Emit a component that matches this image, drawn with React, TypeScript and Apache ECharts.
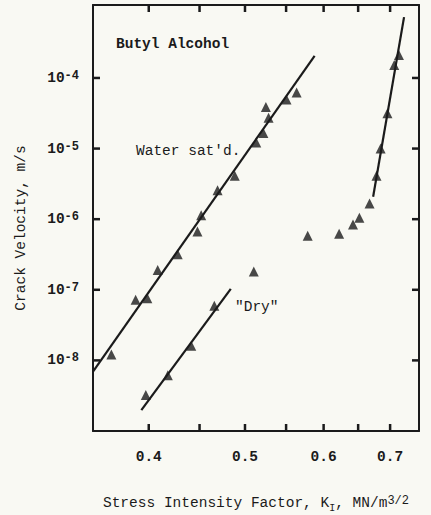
import React, { useEffect, useRef } from 'react';
import * as echarts from 'echarts';

// Stress intensity factor K_I (MN/m^3/2) and crack velocity (m/s)
const waterK = [0.3668, 0.388, 0.3987, 0.4084, 0.4278, 0.4478, 0.4517, 0.4692, 0.4883, 0.5132, 0.5218, 0.5281, 0.5248, 0.5505, 0.5636];
const waterV = [1.21e-8, 7.2e-8, 7.57e-8, 1.91e-7, 3.18e-7, 6.67e-7, 1.14e-6, 2.56e-6, 4.13e-6, 1.22e-5, 1.66e-5, 2.74e-5, 3.87e-5, 4.97e-5, 6.21e-5];
const waterFitK = [0.3515, 0.5876];
const waterFitV = [6.95e-9, 2.06e-4];

const dryK = [0.3973, 0.4181, 0.4414, 0.4657];
const dryV = [3.23e-9, 6.17e-9, 1.61e-8, 5.95e-8];
const dryFitK = [0.3932, 0.4838];
const dryFitV = [1.98e-9, 1.03e-7];

const highK = [0.5103, 0.5782, 0.622, 0.6423, 0.6519, 0.6674, 0.6783, 0.6848, 0.6957, 0.7068, 0.7145];
const highV = [1.81e-7, 5.82e-7, 6.21e-7, 8.41e-7, 1.05e-6, 1.67e-6, 4.11e-6, 1.0e-5, 3.16e-5, 1.53e-4, 2.12e-4];
const highFitK = [0.673, 0.723];
const highFitV = [2.08e-6, 7.26e-4];

const X_MIN = 0.3515;
const X_MAX = 0.7485;
const Y_MIN = 1e-9;
const Y_MAX = 1.08e-3;

const xTickValues = [0.4, 0.45, 0.5, 0.55, 0.6, 0.65, 0.7];
const xLabelValues = [0.4, 0.5, 0.6, 0.7];
const yTickValues = [1e-8, 1e-7, 1e-6, 1e-5, 1e-4];

const INK = '#1b1b1b';
const FONT = '"Liberation Mono", "DejaVu Sans Mono", monospace';
const TICK_LEN = 7;

const pairs = (xs: number[], ys: number[]) => xs.map((x, i) => [x, ys[i]]);

export default function App() {
  const ref = useRef<HTMLDivElement>(null);
  useEffect(() => {
    if (!ref.current) return;
    const chart = echarts.init(ref.current, null, { renderer: 'svg' });
    const axisLine = { show: true, onZero: false, lineStyle: { color: INK, width: 2 } };
    const xBase = {
      type: 'log' as const,
      logBase: 10,
      min: X_MIN,
      max: X_MAX,
      splitLine: { show: false },
      minorTick: { show: false },
      axisTick: { show: false },
      axisLine,
    };
    const yBase = {
      type: 'log' as const,
      logBase: 10,
      min: Y_MIN,
      max: Y_MAX,
      splitLine: { show: false },
      minorTick: { show: false },
      axisTick: { show: false },
      axisLine,
    };
    const scatter = (name: string, xs: number[], ys: number[]) => ({
      name,
      type: 'scatter',
      symbol: 'triangle',
      symbolSize: 10,
      itemStyle: { color: INK },
      data: pairs(xs, ys),
      z: 3,
    });
    const fit = (name: string, xs: number[], ys: number[]) => ({
      name,
      type: 'line',
      symbol: 'none',
      lineStyle: { color: INK, width: 2.2 },
      data: pairs(xs, ys),
      z: 2,
    });
    const tickStyle = { stroke: INK, lineWidth: 2.5 };
    chart.setOption({
      animation: false,
      backgroundColor: '#f9f9f3',
      grid: { left: 93, right: 12, top: 5, bottom: 84, containLabel: false, outerBoundsMode: 'none' },
      xAxis: [
        {
          ...xBase,
          position: 'bottom',
          axisLabel: {
            customValues: xLabelValues,
            formatter: (v: number) => v.toFixed(1),
            margin: 18,
            color: INK,
            fontFamily: FONT,
            fontWeight: 'bold',
            fontSize: 14.5,
          },
          name: '{t|Stress Intensity Factor, K}{sub|I}{t|, MN/m}{sup|3/2}',
          nameLocation: 'middle',
          nameGap: 64,
          nameTextStyle: {
            color: INK,
            fontFamily: FONT,
            fontSize: 14.5,
            rich: {
              t: { fontFamily: FONT, fontSize: 14.5, color: INK, lineHeight: 16, padding: [6, 0, 6, 0], verticalAlign: 'middle' },
              sub: { fontFamily: FONT, fontSize: 10, color: INK, lineHeight: 12, padding: [10, 0, 0, 0], verticalAlign: 'middle' },
              sup: { fontFamily: FONT, fontSize: 12, color: INK, lineHeight: 12, verticalAlign: 'top' },
            },
          },
        },
        {
          ...xBase,
          position: 'top',
          axisLabel: { show: false },
        },
      ],
      yAxis: [
        {
          ...yBase,
          position: 'left',
          axisLabel: {
            customValues: yTickValues,
            margin: 14,
            formatter: (v: number) => `{b|10}{s|${Math.round(Math.log10(v))}}`,
            rich: {
              b: { fontFamily: FONT, fontWeight: 'bold', fontSize: 14.5, color: INK, lineHeight: 16, padding: [7, 0, 7, 0], verticalAlign: 'middle' },
              s: { fontFamily: FONT, fontWeight: 'bold', fontSize: 12, color: INK, lineHeight: 12, verticalAlign: 'top' },
            },
          },
        },
        {
          ...yBase,
          position: 'right',
          axisLabel: { show: false },
        },
      ],
      series: [
        scatter("Water sat'd.", waterK, waterV),
        fit("Water sat'd. fit", waterFitK, waterFitV),
        scatter('"Dry"', dryK, dryV),
        fit('"Dry" fit', dryFitK, dryFitV),
        scatter('High K', highK, highV),
        fit('High K fit', highFitK, highFitV),
        {
          name: 'x ticks',
          type: 'custom',
          silent: true,
          data: xTickValues.map((v) => [v, Y_MIN]),
          renderItem: (params: any, api: any) => {
            const v = api.value(0);
            const b = api.coord([v, Y_MIN]);
            const t = api.coord([v, Y_MAX]);
            return {
              type: 'group',
              children: [
                { type: 'line', shape: { x1: b[0], y1: b[1], x2: b[0], y2: b[1] - TICK_LEN }, style: tickStyle },
                { type: 'line', shape: { x1: t[0], y1: t[1], x2: t[0], y2: t[1] + TICK_LEN }, style: tickStyle },
              ],
            };
          },
        },
        {
          name: 'y ticks',
          type: 'custom',
          silent: true,
          data: yTickValues.map((v) => [X_MIN, v]),
          renderItem: (params: any, api: any) => {
            const v = api.value(1);
            const l = api.coord([X_MIN, v]);
            const r = api.coord([X_MAX, v]);
            return {
              type: 'group',
              children: [
                { type: 'line', shape: { x1: l[0], y1: l[1], x2: l[0] + TICK_LEN, y2: l[1] }, style: tickStyle },
                { type: 'line', shape: { x1: r[0], y1: r[1], x2: r[0] - TICK_LEN, y2: r[1] }, style: tickStyle },
              ],
            };
          },
        },
      ],
      graphic: [
        {
          type: 'text',
          left: 116,
          top: 36,
          style: { text: 'Butyl Alcohol', font: `bold 14.5px ${FONT}`, fill: INK },
        },
        {
          type: 'text',
          left: 136,
          top: 143,
          style: { text: "Water sat'd.", font: `14.5px ${FONT}`, fill: INK },
        },
        {
          type: 'text',
          left: 235,
          top: 299,
          style: { text: '"Dry"', font: `14.5px ${FONT}`, fill: INK },
        },
        {
          type: 'text',
          x: 21,
          y: 228,
          rotation: Math.PI / 2,
          style: { text: 'Crack Velocity, m/s', font: `14.5px ${FONT}`, fill: INK, align: 'center', verticalAlign: 'middle' },
        },
      ],
    });
    return () => chart.dispose();
  }, []);
  return <div ref={ref} style={{ position: 'fixed', left: 0, top: 0, width: 431, height: 515 }} />;
}
